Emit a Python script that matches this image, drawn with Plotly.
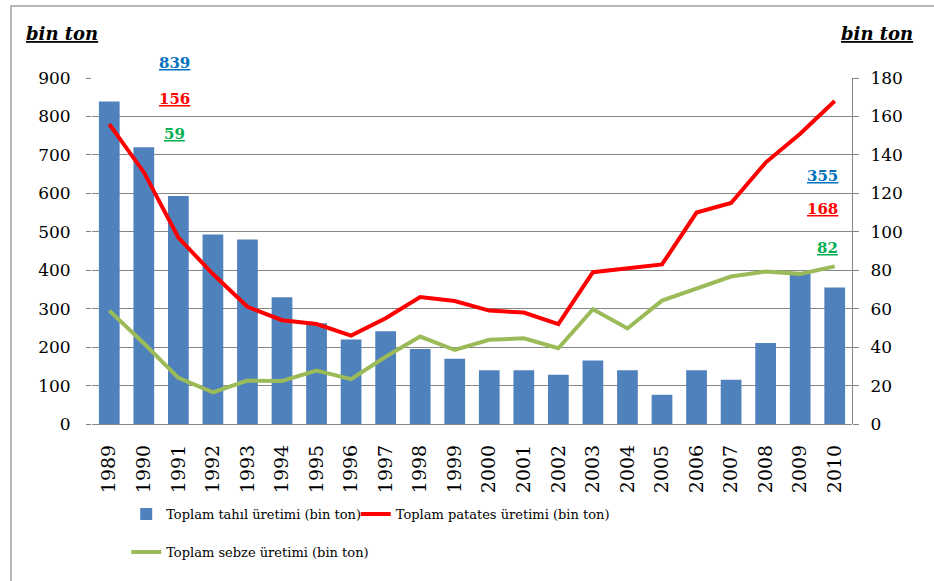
import plotly.graph_objects as go

# === 데이터 ===
YEARS = [str(y) for y in range(1989, 2011)]
TAHIL = [839, 720, 593, 493, 480, 330, 262, 220, 241, 195, 170,
         140, 140, 128, 165, 140, 76, 140, 115, 211, 392, 355]
PATATES = [156, 131, 97, 78, 61, 54, 52, 46, 55, 66, 64,
           59, 58, 52, 79, 81, 83, 110, 115, 136, 151, 168]
SEBZE = [59, 42, 24, 16.5, 22.6, 22.4, 27.8, 23.3, 35, 45.5, 38.5,
         43.8, 44.6, 39.4, 59.7, 49.7, 64.2, 70.7, 76.7, 79.3, 78.1, 82]

# === 색상 ===
COLOR_BAR = "#4F81BD"
COLOR_RED = "#FF0000"
COLOR_GREEN = "#9BBB59"
COLOR_GRID = "#868686"
FONT = "DejaVu Serif"
LEG_FONT = dict(family=FONT, size=13, color="black")

fig = go.Figure()

fig.add_trace(go.Bar(
    x=YEARS, y=TAHIL,
    name="Toplam tahıl üretimi (bin ton)",
    marker=dict(color=COLOR_BAR, line=dict(width=0)),
    legend="legend",
))
fig.add_trace(go.Scatter(
    x=YEARS, y=PATATES, yaxis="y2", mode="lines",
    name="Toplam patates üretimi (bin ton)",
    line=dict(color=COLOR_RED, width=4),
    legend="legend3",
))
fig.add_trace(go.Scatter(
    x=YEARS, y=SEBZE, yaxis="y2", mode="lines",
    name="Toplam sebze üretimi (bin ton)",
    line=dict(color=COLOR_GREEN, width=4),
    legend="legend2",
))

# 값 라벨 (처음 / 마지막 해)
labels = [
    (0.108, 1.043, "center", TAHIL[0], "#0070C0"),
    (0.108, 0.940, "center", PATATES[0], COLOR_RED),
    (0.108, 0.839, "center", SEBZE[0], "#00B050"),
    (0.984, 0.717, "right", TAHIL[-1], "#0070C0"),
    (0.984, 0.621, "right", PATATES[-1], COLOR_RED),
    (0.984, 0.509, "right", round(SEBZE[-1]), "#00B050"),
]
annotations = [
    dict(x=x, y=y, xref="paper", yref="paper", xanchor=xa, yanchor="middle",
         text=f"<b><u>{v}</u></b>", showarrow=False,
         font=dict(family=FONT, size=15, color=c))
    for x, y, xa, v, c in labels
]
annotations += [
    dict(x=-0.09, y=1.13, xref="paper", yref="paper", xanchor="left",
         yanchor="middle", text="<b><i><u>bin ton</u></i></b>", showarrow=False,
         font=dict(family=FONT, size=18, color="black")),
    dict(x=1.083, y=1.13, xref="paper", yref="paper", xanchor="right",
         yanchor="middle", text="<b><i><u>bin ton</u></i></b>", showarrow=False,
         font=dict(family=FONT, size=18, color="black")),
]

fig.update_layout(
    width=934, height=581,
    paper_bgcolor="white", plot_bgcolor="white",
    margin=dict(l=92, r=82, t=78, b=157),
    font=dict(family=FONT, color="black"),
    bargap=0.4,
    showlegend=True,
    annotations=annotations,
    xaxis=dict(
        type="category", tickangle=-90, tickfont=dict(family=FONT, size=19),
        showgrid=False, showline=False, ticks="",
        ticklabelstandoff=16,
    ),
    yaxis=dict(
        range=[0, 900], dtick=100, tickfont=dict(family=FONT, size=17),
        showgrid=True, gridcolor=COLOR_GRID, gridwidth=1,
        zeroline=True, zerolinecolor=COLOR_GRID, zerolinewidth=1,
        ticks="outside", ticklen=5, tickcolor=COLOR_GRID,
        ticklabelstandoff=12,
    ),
    yaxis2=dict(
        range=[0, 180], dtick=20, overlaying="y", side="right",
        tickfont=dict(family=FONT, size=17), showgrid=False, zeroline=False,
        showline=True, linecolor=COLOR_GRID, linewidth=1,
        ticks="outside", ticklen=6, tickcolor=COLOR_GRID,
        ticklabelstandoff=8,
    ),
    legend=dict(
        orientation="h", x=0.045, y=-0.26, xanchor="left", yanchor="middle",
        font=LEG_FONT, bgcolor="rgba(0,0,0,0)",
    ),
    legend3=dict(
        orientation="h", x=0.347, y=-0.26, xanchor="left", yanchor="middle",
        font=LEG_FONT, bgcolor="rgba(0,0,0,0)",
    ),
    legend2=dict(
        orientation="h", x=0.045, y=-0.37, xanchor="left", yanchor="middle",
        font=LEG_FONT, bgcolor="rgba(0,0,0,0)",
    ),
    shapes=[dict(
        type="rect", xref="paper", yref="paper",
        x0=-0.1066, x1=1.2, y0=-0.6, y1=1.208,
        line=dict(color="#A0A0A0", width=1.5), fillcolor="rgba(0,0,0,0)",
        layer="below",
    )],
)

fig.write_html("out.html", config={"displayModeBar": False},
               post_script="document.body.style.margin='0';")
